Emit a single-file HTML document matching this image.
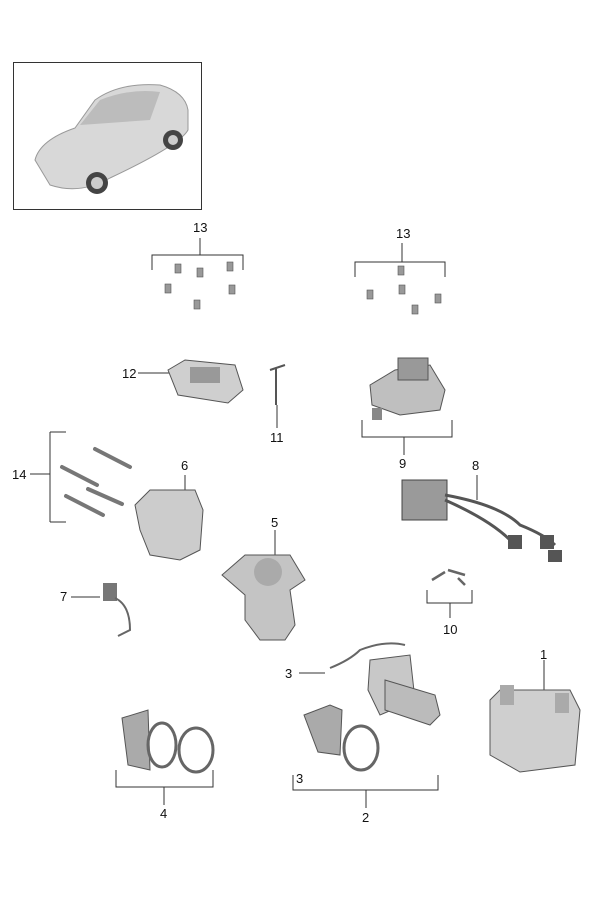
<!DOCTYPE html>
<html><head><style>
html,body{margin:0;padding:0;background:#fff;}
svg{display:block;}
text{font-family:"Liberation Sans",sans-serif;font-size:13px;fill:#111;}
</style></head><body>
<svg width="600" height="900" viewBox="0 0 600 900" xmlns="http://www.w3.org/2000/svg">
<rect x="13.5" y="62.5" width="188" height="147" fill="#fff" stroke="#333" stroke-width="1"/>
<!-- car -->
<path d="M35 160 Q40 140 75 128 L95 100 Q120 82 160 85 Q185 92 188 110 L188 130 Q180 145 110 178 Q80 195 50 185 Z" fill="#d8d8d8" stroke="#999"/>
<path d="M80 125 L100 100 Q130 88 160 92 L150 120 Z" fill="#bcbcbc"/>
<circle cx="97" cy="183" r="11" fill="#444"/><circle cx="97" cy="183" r="6" fill="#ccc"/>
<circle cx="173" cy="140" r="10" fill="#444"/><circle cx="173" cy="140" r="5" fill="#ccc"/>
<g stroke="#333" stroke-width="1" fill="none">
<!-- 13 left -->
<path d="M200 238 V255 M152 270 V255 H243 V270"/>
<path d="M402 243 V262 M355 277 V262 H445 V277"/>
<!-- 14 -->
<path d="M50 432 V522 M50 432 H66 M50 522 H66 M30 474 H50"/>
<!-- 9 -->
<path d="M362 420 V437 H452 V420 M404 437 V455"/>
<!-- 4 -->
<path d="M116 770 V787 H213 V770 M164 787 V805"/>
<!-- 2 -->
<path d="M293 775 V790 H438 V775 M366 790 V808"/>
<!-- 10 -->
<path d="M427 590 V603 H472 V590 M450 603 V618"/>
<!-- leaders -->
<path d="M138 373 H170 M277 405 V428 M185 475 V490 M275 530 V560 M71 597 H100 M477 475 V500 M299 673 H325 M544 660 V690"/>
</g>
<!-- screws -->
<g fill="#999" stroke="#555" stroke-width="0.6">
<rect x="175" y="264" width="6" height="9"/><rect x="197" y="268" width="6" height="9"/><rect x="227" y="262" width="6" height="9"/>
<rect x="165" y="284" width="6" height="9"/><rect x="229" y="285" width="6" height="9"/><rect x="194" y="300" width="6" height="9"/>
<rect x="398" y="266" width="6" height="9"/><rect x="367" y="290" width="6" height="9"/><rect x="399" y="285" width="6" height="9"/>
<rect x="435" y="294" width="6" height="9"/><rect x="412" y="305" width="6" height="9"/>
</g>
<!-- 12 -->
<path d="M168 370 L185 360 L235 365 L243 390 L228 403 L178 395 Z" fill="#cfcfcf" stroke="#555"/>
<rect x="190" y="367" width="30" height="16" fill="#999"/>
<!-- 11 -->
<path d="M270 370 L285 365 M276 368 V405" stroke="#555" stroke-width="2" fill="none"/>
<!-- 9 unit -->
<path d="M370 385 L395 370 L430 365 L445 390 L440 410 L400 415 L372 405 Z" fill="#bfbfbf" stroke="#555"/>
<rect x="398" y="358" width="30" height="22" fill="#999" stroke="#555"/>
<rect x="372" y="408" width="10" height="12" fill="#888"/>
<!-- 14 rods -->
<g stroke="#777" stroke-width="4" stroke-linecap="round">
<line x1="95" y1="449" x2="130" y2="467"/><line x1="62" y1="467" x2="97" y2="485"/>
<line x1="88" y1="489" x2="122" y2="504"/><line x1="66" y1="496" x2="103" y2="515"/>
</g>
<!-- 6 -->
<path d="M135 505 L150 490 L195 490 L203 510 L200 550 L180 560 L150 555 L140 530 Z" fill="#cccccc" stroke="#555"/>
<!-- 5 -->
<path d="M222 575 L245 555 L290 555 L305 580 L290 590 L295 625 L285 640 L260 640 L245 620 L245 595 Z" fill="#c4c4c4" stroke="#555"/>
<circle cx="268" cy="572" r="14" fill="#aaa"/>
<!-- 8 harness -->
<rect x="402" y="480" width="45" height="40" fill="#9a9a9a" stroke="#444"/>
<path d="M445 495 Q500 505 520 525 Q545 535 555 545 M445 500 Q490 520 510 540" stroke="#555" stroke-width="3" fill="none"/>
<rect x="508" y="535" width="14" height="14" fill="#555"/><rect x="540" y="535" width="14" height="14" fill="#555"/><rect x="548" y="550" width="14" height="12" fill="#555"/>
<!-- 7 -->
<rect x="103" y="583" width="14" height="18" fill="#777"/>
<path d="M115 598 Q130 605 130 630 L118 636" stroke="#666" stroke-width="2" fill="none"/>
<!-- 10 -->
<path d="M432 580 L445 572 M448 570 L465 575 M458 578 L465 585" stroke="#666" stroke-width="2.5"/>
<!-- 3 with heater -->
<path d="M330 668 Q350 660 360 650 Q385 640 405 645" stroke="#666" stroke-width="2" fill="none"/>
<path d="M370 660 L410 655 L415 700 L380 715 L368 690 Z" fill="#c8c8c8" stroke="#555"/>
<path d="M385 680 L435 695 L440 715 L430 725 L385 710 Z" fill="#bbb" stroke="#555"/>
<!-- 1 -->
<path d="M490 700 L500 690 L570 690 L580 710 L575 765 L520 772 L490 755 Z" fill="#cfcfcf" stroke="#555"/>
<rect x="500" y="685" width="14" height="20" fill="#aaa"/><rect x="555" y="693" width="14" height="20" fill="#aaa"/>
<!-- 4 gaskets -->
<path d="M122 718 L148 710 L150 770 L128 765 Z" fill="#aaa" stroke="#555"/>
<ellipse cx="162" cy="745" rx="14" ry="22" fill="none" stroke="#666" stroke-width="3"/>
<ellipse cx="196" cy="750" rx="17" ry="22" fill="none" stroke="#666" stroke-width="3"/>
<path d="M304 715 L330 705 L342 710 L340 755 L318 752 Z" fill="#aaa" stroke="#555"/>
<ellipse cx="361" cy="748" rx="17" ry="22" fill="none" stroke="#666" stroke-width="3"/>
<!-- labels -->
<text x="193" y="232">13</text><text x="396" y="238">13</text>
<text x="122" y="378">12</text><text x="270" y="442">11</text>
<text x="399" y="468">9</text><text x="12" y="479">14</text>
<text x="181" y="470">6</text><text x="472" y="470">8</text>
<text x="271" y="527">5</text><text x="60" y="601">7</text>
<text x="443" y="634">10</text><text x="285" y="678">3</text>
<text x="540" y="659">1</text><text x="296" y="783">3</text>
<text x="160" y="818">4</text><text x="362" y="822">2</text>
</svg>
</body></html>
